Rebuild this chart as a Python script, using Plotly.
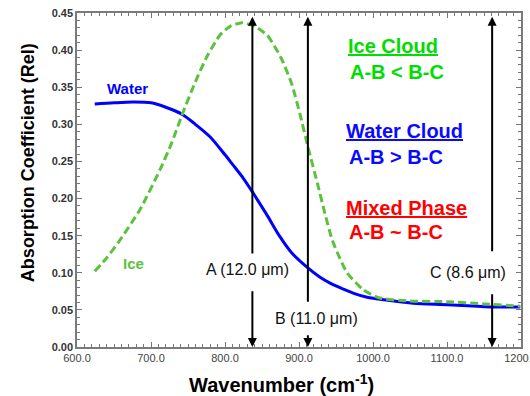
import plotly.graph_objects as go

# ---- data ----
water_wn = [624, 650, 676, 700, 720, 743, 760, 780, 800, 811, 825, 838, 856, 874, 890,
            912, 927, 942, 960, 975, 992, 1020, 1054, 1100, 1161, 1199]
water_abs = [0.3275, 0.329, 0.330, 0.329, 0.323, 0.313, 0.300, 0.283, 0.259, 0.245, 0.227,
             0.2075, 0.179, 0.149, 0.127, 0.1065, 0.095, 0.086, 0.078, 0.072, 0.067, 0.063,
             0.059, 0.057, 0.054, 0.054]

ice_wn = [624, 640, 658, 685, 712, 728, 742, 762, 776, 793, 807, 823, 840, 857, 870, 877,
          890, 901, 912, 925, 935, 945, 955, 965, 987, 1009, 1050, 1100, 1150, 1199]
ice_abs = [0.102, 0.120, 0.144, 0.185, 0.2385, 0.275, 0.313, 0.362, 0.392, 0.420, 0.432,
           0.437, 0.432, 0.420, 0.400, 0.387, 0.355, 0.315, 0.270, 0.220, 0.180, 0.144,
           0.120, 0.100, 0.077, 0.066, 0.062, 0.061, 0.058, 0.055]

channel_names = ["A (12.0 μm)", "B (11.0 μm)", "C (8.6 μm)"]
channel_wn = [837, 912, 1161]
channel_label_wn = [831, 924, 1128]
channel_label_y = [0.104, 0.039, 0.100]
channel_gap_top = [0.124, 0.059, 0.127]
channel_gap_bottom = [0.077, 0.018, 0.073]
arrow_top = 0.445

x_ticks = [600, 700, 800, 900, 1000, 1100, 1200]
y_ticks = [0.00, 0.05, 0.10, 0.15, 0.20, 0.25, 0.30, 0.35, 0.40, 0.45]

WATER = "#0000ff"
ICE = "#5cc23c"
FONT = "Liberation Sans, Arial, sans-serif"

fig = go.Figure()
fig.add_trace(go.Scatter(x=water_wn, y=water_abs, mode="lines", name="Water",
                         line=dict(color=WATER, width=3, shape="spline", smoothing=0.8)))
fig.add_trace(go.Scatter(x=ice_wn, y=ice_abs, mode="lines", name="Ice",
                         line=dict(color=ICE, width=3, dash="8px,4px", shape="spline", smoothing=0.6)))

ann = []
for name, xw, lx, ly, gt, gb in zip(channel_names, channel_wn, channel_label_wn,
                                     channel_label_y, channel_gap_top, channel_gap_bottom):
    ann.append(dict(x=xw, y=arrow_top, ax=xw, ay=gt, xref="x", yref="y", axref="x", ayref="y",
                    text="", showarrow=True, arrowhead=2, arrowsize=0.9, arrowwidth=2,
                    arrowcolor="black"))
    ann.append(dict(x=xw, y=0, ax=xw, ay=gb, xref="x", yref="y", axref="x", ayref="y",
                    text="", showarrow=True, arrowhead=2, arrowsize=0.9, arrowwidth=2,
                    arrowcolor="black"))
    ann.append(dict(x=lx, y=ly, xref="x", yref="y", text=name, showarrow=False,
                    font=dict(family=FONT, size=16, color="#111")))

# curve labels
ann.append(dict(x=668, y=0.348, xref="x", yref="y", text="<b>Water</b>", showarrow=False,
                font=dict(family=FONT, size=15, color=WATER)))
ann.append(dict(x=677, y=0.112, xref="x", yref="y", text="<b>Ice</b>", showarrow=False,
                font=dict(family=FONT, size=15, color=ICE)))

# right-side explanatory text
side = [
    ("<b><u>Ice Cloud</u></b>", 0.606, 0.901, "#00dd00"),
    ("<b>A-B &lt; B-C</b>", 0.611, 0.823, "#00dd00"),
    ("<b><u>Water Cloud</u></b>", 0.602, 0.647, "#0a0aff"),
    ("<b>A-B &gt; B-C</b>", 0.607, 0.569, "#0a0aff"),
    ("<b><u>Mixed Phase</u></b>", 0.602, 0.416, "#ff0000"),
    ("<b>A-B ~ B-C</b>", 0.607, 0.344, "#ff0000"),
]
for t, xp, yp, c in side:
    ann.append(dict(x=xp, y=yp, xref="paper", yref="paper", text=t, showarrow=False,
                    xanchor="left", yanchor="middle",
                    font=dict(family=FONT, size=20, color=c)))

# axis titles (placed as in the reference)
ann.append(dict(x=0.4595, y=-0.108, xref="paper", yref="paper",
                text="<b>Wavenumber (cm<sup>-1</sup>)</b>", showarrow=False,
                xanchor="center", yanchor="middle",
                font=dict(family=FONT, size=20, color="black")))
ann.append(dict(x=-0.110, y=0.551, xref="paper", yref="paper",
                text="<b>Absorption Coefficient (Rel)</b>", showarrow=False, textangle=-90,
                xanchor="center", yanchor="middle",
                font=dict(family=FONT, size=18, color="black")))

fig.update_layout(
    width=530, height=396,
    margin=dict(l=77, r=9, t=13, b=49, autoexpand=False),
    paper_bgcolor="white", plot_bgcolor="white",
    showlegend=False,
    annotations=ann,
    font=dict(family=FONT),
)
fig.update_xaxes(
    range=[600, 1200], tickvals=x_ticks, tickformat=".1f", automargin=False,
    ticks="inside", ticklen=5, tickcolor="#777", tickwidth=1,
    minor=dict(ticks="inside", ticklen=3, dtick=10, tickcolor="#777"),
    showline=True, linecolor="#7a7a7a", linewidth=1.5, mirror="allticks",
    showgrid=False, zeroline=False, ticklabeloverflow="allow",
    tickfont=dict(family=FONT, size=11, color="#444"),
)
fig.update_yaxes(
    range=[0, 0.45], tickvals=y_ticks, tickformat=".2f", automargin=False,
    ticks="inside", ticklen=5, tickcolor="#777", tickwidth=1,
    minor=dict(ticks="inside", ticklen=3, dtick=0.01, tickcolor="#777"),
    showline=True, linecolor="#7a7a7a", linewidth=1.5, mirror="allticks",
    showgrid=False, zeroline=False, ticklabeloverflow="allow",
    tickfont=dict(family=FONT, size=11, color="#333", weight="bold"),
)

# drop the default page margin / scrollbars, then redraw at the exact window size
post = (
    "document.documentElement.style.overflow='hidden';"
    "document.body.style.margin='0';"
    "document.body.style.overflow='hidden';"
    "var gd=document.getElementById('{plot_id}');"
    "Plotly.relayout(gd,{width:530,height:396});"
)
fig.write_html("out.html", config={"displayModeBar": False, "responsive": False},
               post_script=post)
